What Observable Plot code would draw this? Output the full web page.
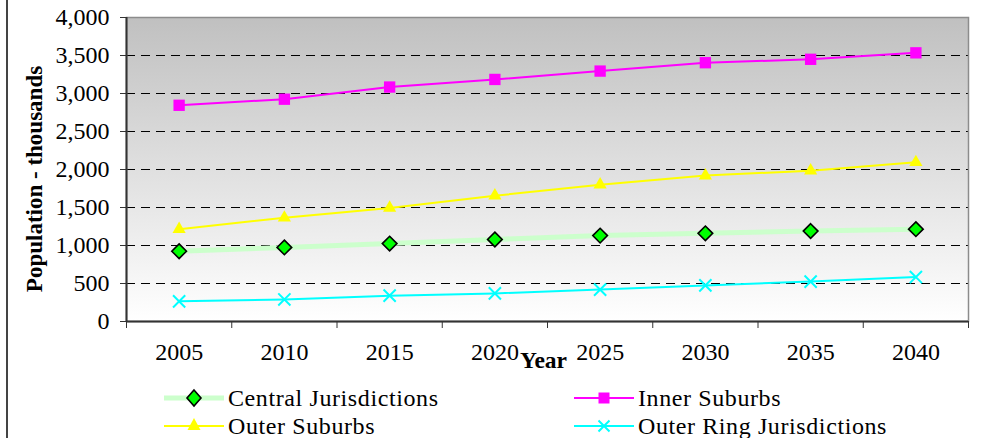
<!DOCTYPE html>
<html><head><meta charset="utf-8">
<script src="https://cdn.jsdelivr.net/npm/d3@7"></script>
<script src="https://cdn.jsdelivr.net/npm/@observablehq/plot@0.6"></script>
<style>
body{margin:0;background:#fff;}
#wrap{position:relative;width:989px;height:438px;overflow:hidden;font-family:"Liberation Serif","Times New Roman",serif;}
#border{position:absolute;left:6px;top:0;width:2px;height:438px;background:#444;}
#ytitle{position:absolute;left:34px;top:179px;transform:translate(-50%,-50%) rotate(-90deg);font-weight:bold;font-size:23px;line-height:23px;white-space:nowrap;color:#000;}
.leg{position:absolute;height:24px;display:flex;align-items:center;font-size:24px;letter-spacing:0.6px;color:#000;white-space:nowrap;}
.leg svg{margin-right:4px;flex:none;}
.leg span{display:block;height:24px;line-height:24px;}
</style></head><body>
<div id="wrap"><div id="chart"></div><div id="legend"></div><div id="ytitle"></div><div id="border"></div></div>
<script>
// ---- data ----
const years = [2005, 2010, 2015, 2020, 2025, 2030, 2035, 2040];
const central = [925, 975, 1025, 1080, 1130, 1160, 1190, 1215];
const inner = [2845, 2925, 3085, 3185, 3295, 3405, 3450, 3535];
const outer = [1215, 1365, 1495, 1655, 1800, 1920, 1985, 2095];
const ring = [265, 290, 340, 370, 420, 475, 525, 585];
const yTicks = [0, 500, 1000, 1500, 2000, 2500, 3000, 3500, 4000];
const seriesNames = ["Central Jurisdictions", "Inner Suburbs", "Outer Suburbs", "Outer Ring Jurisdictions"];
const yTitle = "Population - thousands";
const xTitle = "Year";

const toRows = (vals) => years.map((year, i) => ({year, value: vals[i]}));
const centralData = toRows(central);
const innerData = toRows(inner);
const outerData = toRows(outer);
const ringData = toRows(ring);

const bounds = [...years.map(y => y - 2.5), years[years.length - 1] + 2.5];
const gridVals = yTicks.filter(v => v > 0 && v < 4000);

const chart = Plot.plot({
  width: 989,
  height: 375,
  marginLeft: 126,
  marginRight: 21,
  marginTop: 17,
  marginBottom: 54,
  style: {fontFamily: "'Liberation Serif', 'Times New Roman', serif", fontSize: "24px", color: "#000", background: "transparent"},
  x: {domain: [bounds[0], bounds[bounds.length - 1]], axis: null},
  y: {domain: [0, 4000], axis: null},
  marks: [
    Plot.frame({fill: "url(#bgGrad)", stroke: "none"}),
    Plot.ruleY(gridVals, {stroke: "#000", strokeDasharray: "9,6", strokeWidth: 1}),
    Plot.frame({stroke: "#8c8c8c", strokeWidth: 1.5}),
    Plot.ruleX([bounds[0]], {stroke: "#333", strokeWidth: 2}),
    Plot.ruleY([0], {stroke: "#333", strokeWidth: 2}),
    Plot.axisY({ticks: yTicks, tickSize: 6, tickPadding: 11, tickFormat: d3.format(","), label: null, stroke: "#333", fontSize: 24}),
    Plot.axisX({ticks: bounds, tickSize: 7, tickFormat: () => "", label: null, stroke: "#333"}),
    Plot.axisX({ticks: years, tickSize: 0, tickPadding: 21, tickFormat: d => String(d), label: null, fontSize: 24}),
    Plot.line(centralData, {x: "year", y: "value", stroke: "#ccffcc", strokeWidth: 5}),
    Plot.line(innerData, {x: "year", y: "value", stroke: "#ff00ff", strokeWidth: 2}),
    Plot.line(outerData, {x: "year", y: "value", stroke: "#ffff00", strokeWidth: 2}),
    Plot.line(ringData, {x: "year", y: "value", stroke: "#00ffff", strokeWidth: 2}),
    Plot.dot(centralData, {x: "year", y: "value", symbol: "diamond2", r: 6.6, fill: "#00ff00", stroke: "#000", strokeWidth: 1.6}),
    Plot.dot(innerData, {x: "year", y: "value", symbol: "square", r: 6.4, fill: "#ff00ff", stroke: "none"}),
    Plot.dot(outerData, {x: "year", y: "value", symbol: "triangle", r: 4.9, fill: "#ffff00", stroke: "none"}),
    Plot.dot(ringData, {x: "year", y: "value", symbol: "times", r: 5.6, fill: "none", stroke: "#00ffff", strokeWidth: 2}),
    Plot.text([xTitle], {text: d => d, frameAnchor: "bottom", dx: -4, dy: 46, fontWeight: "bold", fontSize: 23.5})
  ]
});

// gradient definition for the plot background
const svg = d3.select(chart);
const grad = svg.insert("defs", ":first-child").append("linearGradient")
  .attr("id", "bgGrad").attr("x1", 0).attr("y1", 0).attr("x2", 0).attr("y2", 1);
grad.append("stop").attr("offset", "0%").attr("stop-color", "#c0c0c0");
grad.append("stop").attr("offset", "100%").attr("stop-color", "#ffffff");
document.getElementById("chart").appendChild(chart);
document.getElementById("ytitle").textContent = yTitle;

// ---- legend ----
const legendSpec = [
  {name: seriesNames[0], left: 164, top: 386, line: "#ccffcc", lw: 5, sym: "diamond"},
  {name: seriesNames[1], left: 574, top: 386, line: "#ff00ff", lw: 2, sym: "square"},
  {name: seriesNames[2], left: 164, top: 414, line: "#ffff00", lw: 2, sym: "triangle"},
  {name: seriesNames[3], left: 574, top: 414, line: "#00ffff", lw: 2, sym: "times"}
];
const symSvg = {
  diamond: '<path d="M30,4 L37,12 L30,20 L23,12 Z" fill="#00ff00" stroke="#000" stroke-width="1.6"/>',
  square: '<rect x="24.5" y="6.5" width="11" height="11" fill="#ff00ff"/>',
  triangle: '<path d="M30,4 L36.5,16 L23.5,16 Z" fill="#ffff00"/>',
  times: '<path d="M24.5,6.5 L35.5,17.5 M35.5,6.5 L24.5,17.5" stroke="#00ffff" stroke-width="2"/>'
};
const legend = document.getElementById("legend");
legendSpec.forEach(s => {
  const div = document.createElement("div");
  div.className = "leg";
  div.style.left = s.left + "px";
  div.style.top = s.top + "px";
  div.innerHTML = `<svg width="60" height="24"><line x1="0" x2="60" y1="12" y2="12" stroke="${s.line}" stroke-width="${s.lw}"/>${symSvg[s.sym]}</svg><span>${s.name}</span>`;
  legend.appendChild(div);
});
</script>
</body></html>
